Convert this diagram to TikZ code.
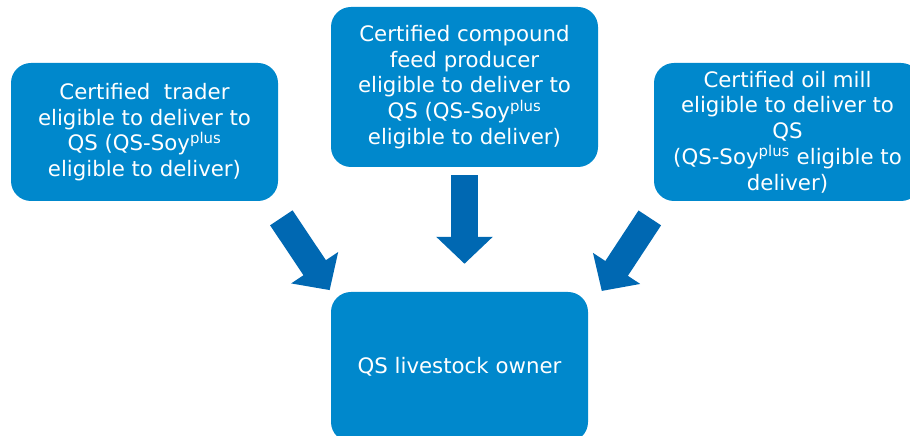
\documentclass[tikz,border=0pt]{standalone}
\usepackage{fontspec}
\setmainfont{DejaVu Sans}
\usetikzlibrary{arrows.meta}
\definecolor{boxblue}{RGB}{0,136,204}
\definecolor{arrowblue}{RGB}{0,104,178}
\tikzset{
	qsbox/.style={fill=boxblue,rounded corners=20pt,text=white,align=center,inner sep=0pt,font=\fontsize{21.3}{25.7}\selectfont},
	fatarrow/.style={arrowblue,line width=27pt,-{Triangle[length=27pt,width=55pt]}}
}
\newcommand{\soyplus}{QS-Soy\textsuperscript{plus}}

\begin{document}
\begin{tikzpicture}[x=1pt,y=1pt]
			\clip(0,0)rectangle(910,436);
			\node[qsbox,minimum width=267pt,minimum height=138pt](trader)at(144.5,304){Certified\ \ trader\\eligible to deliver to\\QS (\soyplus\\eligible to deliver)};
			\node[qsbox,minimum width=267pt,minimum height=160pt](feed)at(464.5,349){Certified compound\\feed producer\\eligible to deliver to\\QS (\soyplus\\eligible to deliver)};
			\node[qsbox,minimum width=267pt,minimum height=138pt](mill)at(787.5,304){Certified oil mill\\eligible to deliver to\\QS\\(\soyplus{} eligible to\\deliver)};
			\node[qsbox,minimum width=257pt,minimum height=150pt](owner)at(459.5,69){QS livestock owner};
			\draw[fatarrow,shorten <=20pt,shorten >=2pt]([xshift=-8pt]trader.south east)--(owner.north west);
			\draw[fatarrow,shorten <=8pt,shorten >=28pt](feed.south)--(feed.south|-owner.north);
			\draw[fatarrow,shorten <=20pt,shorten >=1pt]([xshift=7pt]mill.south west)--([xshift=13pt]owner.north east);
		\end{tikzpicture}
\end{document}
